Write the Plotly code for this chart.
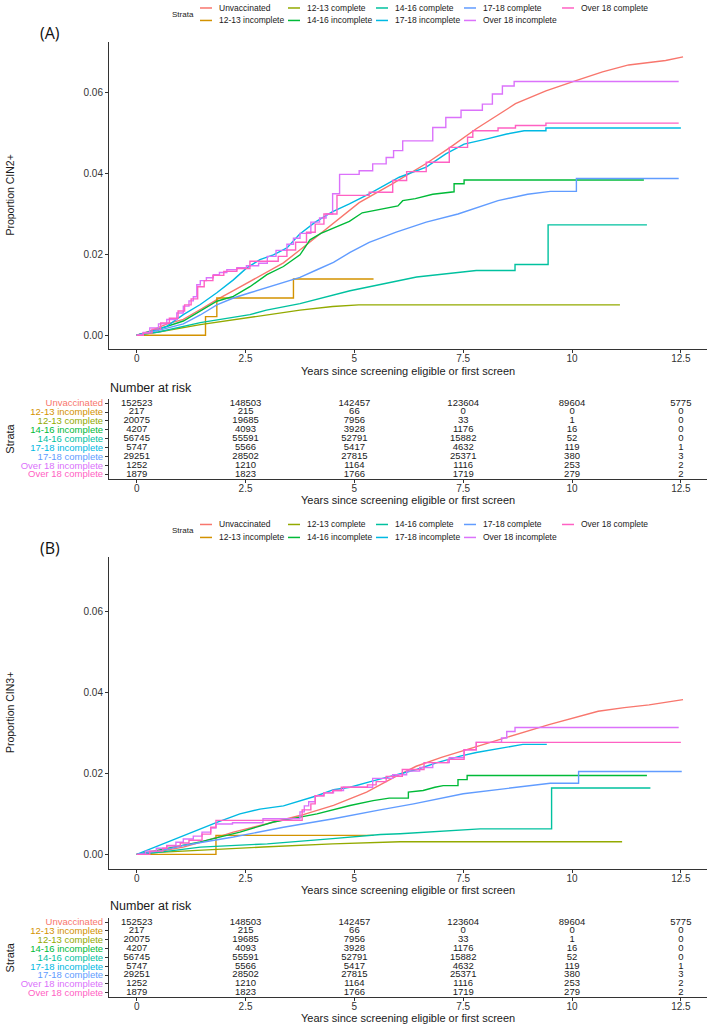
import plotly.graph_objects as go

W, H = 709, 1025

STRATA = ["Unvaccinated", "12-13 incomplete", "12-13 complete", "14-16 incomplete",
          "14-16 complete", "17-18 incomplete", "17-18 complete",
          "Over 18 incomplete", "Over 18 complete"]
COLORS = ["#F8766D", "#D39200", "#93AA00", "#00BA38", "#00C19F",
          "#00B9E3", "#619CFF", "#DB72FB", "#FF61C3"]

# ---------------- Panel A (CIN2+) curves ----------------
A_unvacc_t = [0, 0.3, 0.7, 1.07, 1.5, 1.84, 2.2, 2.6, 3.0, 3.37, 3.9, 4.5, 5.11, 5.88, 6.65, 7.2, 7.8, 8.7, 9.4, 10.09, 10.7, 11.3, 12.15, 12.55]
A_unvacc_v = [0, 0.001, 0.0028, 0.0039, 0.0066, 0.0088, 0.0109, 0.0133, 0.0157, 0.0179, 0.0224, 0.0275, 0.0328, 0.0375, 0.0425, 0.0465, 0.0511, 0.0573, 0.0605, 0.0630, 0.0652, 0.0669, 0.0680, 0.0689]

A_1213inc_t = [0, 1.58, 1.84, 3.6, 5.44]
A_1213inc_v = [0, 0.0046, 0.0092, 0.0139, 0.0139]

A_1213com_t = [0, 0.5, 1.46, 2.6, 3.75, 4.5, 5.1, 11.1]
A_1213com_v = [0, 0.0008, 0.0026, 0.0043, 0.0062, 0.0071, 0.0075, 0.0075]

A_1416inc_t = [0, 0.5, 1.07, 1.46, 1.84, 2.22, 2.6, 2.99, 3.37, 3.75, 3.98, 4.23, 4.6, 4.885, 5.18, 5.56, 6.0, 6.11, 6.4, 6.8, 7.29, 7.29, 7.52, 7.52, 11.65]
A_1416inc_v = [0, 0.0015, 0.0035, 0.0059, 0.0084, 0.0096, 0.012, 0.015, 0.017, 0.0199, 0.0236, 0.0252, 0.0268, 0.0282, 0.0303, 0.0311, 0.032, 0.0333, 0.0338, 0.0349, 0.0355, 0.0375, 0.0375, 0.0384, 0.0384]

A_1416com_t = [0, 0.5, 1.46, 2.2, 2.6, 2.98, 3.75, 4.9, 5.66, 6.05, 6.43, 7.8, 8.69, 8.69, 9.45, 9.45, 11.72]
A_1416com_v = [0, 0.0008, 0.0031, 0.0045, 0.0051, 0.0062, 0.0078, 0.011, 0.0127, 0.0135, 0.0144, 0.016, 0.016, 0.0175, 0.0175, 0.0273, 0.0273]

A_1718inc_t = [0, 0.3, 0.69, 1.07, 1.46, 1.84, 2.22, 2.52, 2.83, 3.14, 3.45, 3.74, 4.1, 4.49, 4.885, 5.34, 6.03, 6.65, 7.1, 7.52, 8.05, 8.5, 8.9, 9.4, 9.4, 12.5]
A_1718inc_v = [0, 0.0008, 0.0022, 0.0051, 0.0076, 0.0105, 0.0137, 0.0166, 0.0187, 0.0199, 0.0216, 0.025, 0.028, 0.0305, 0.0325, 0.035, 0.0391, 0.0416, 0.0449, 0.0473, 0.0486, 0.0498, 0.0506, 0.0506, 0.0513, 0.0513]

A_1718com_t = [0, 0.5, 1.07, 1.46, 1.84, 2.22, 2.6, 2.99, 3.37, 3.75, 4.14, 4.52, 4.9, 5.34, 5.96, 6.65, 7.38, 8.3, 8.98, 9.5, 10.1, 10.1, 12.45]
A_1718com_v = [0, 0.0012, 0.0028, 0.005, 0.0075, 0.0092, 0.0105, 0.0118, 0.013, 0.0143, 0.0162, 0.018, 0.0205, 0.023, 0.0255, 0.028, 0.030, 0.0333, 0.0349, 0.0356, 0.0356, 0.0388, 0.0388]

A_o18inc_t = [0, 0.15, 0.3, 0.5, 0.69, 0.92, 1.07, 1.2, 1.3, 1.38, 1.46, 1.6, 1.76, 1.9, 2.07, 2.3, 2.52, 2.8, 3.0, 3.2, 3.45, 3.6, 3.75, 4.0, 4.2, 4.35, 4.5, 4.66, 5.11, 5.42, 5.73, 5.9, 6.11, 6.8, 7.1, 7.45, 7.94, 8.17, 8.4, 8.67, 12.45]
A_o18inc_v = [0, 0.0007, 0.0018, 0.0028, 0.0039, 0.0055, 0.0072, 0.0085, 0.0095, 0.0125, 0.0135, 0.0142, 0.015, 0.0155, 0.0162, 0.0167, 0.0172, 0.0178, 0.0195, 0.021, 0.0225, 0.024, 0.0252, 0.028, 0.029, 0.030, 0.035, 0.0398, 0.0407, 0.0424, 0.044, 0.0457, 0.0481, 0.0514, 0.0539, 0.0557, 0.0572, 0.0597, 0.0617, 0.0628, 0.0628]

A_o18com_t = [0, 0.15, 0.35, 0.55, 0.75, 0.95, 1.1, 1.25, 1.4, 1.55, 1.75, 2.0, 2.3, 2.6, 3.25, 3.45, 3.65, 3.9, 4.1, 4.3, 4.6, 5.34, 5.88, 6.2, 6.65, 7.18, 7.6, 7.72, 8.3, 8.7, 9.4, 12.45]
A_o18com_v = [0, 0.0005, 0.0015, 0.003, 0.0042, 0.006, 0.0075, 0.009, 0.012, 0.0135, 0.0148, 0.0158, 0.0165, 0.0183, 0.0195, 0.0211, 0.023, 0.0255, 0.0275, 0.030, 0.0346, 0.0354, 0.0383, 0.0405, 0.0428, 0.0465, 0.049, 0.0506, 0.0513, 0.0519, 0.0525, 0.0525]

# ---------------- Panel B (CIN3+) curves ----------------
B_unvacc_t = [0, 0.5, 1.07, 1.5, 2.22, 2.99, 3.75, 4.52, 5.28, 5.9, 6.42, 7.0, 7.56, 8.33, 9.47, 10.6, 11.2, 11.77, 12.55]
B_unvacc_v = [0, 0.0007, 0.0018, 0.0031, 0.0055, 0.0076, 0.0096, 0.0121, 0.0154, 0.019, 0.0218, 0.024, 0.0259, 0.0284, 0.0321, 0.0354, 0.0363, 0.037, 0.0383]

B_1213inc_t = [0, 1.82, 5.44]
B_1213inc_v = [0, 0.0047, 0.0047]

B_1213com_t = [0, 0.5, 2.9, 4.5, 6.05, 11.15]
B_1213com_v = [0, 0.0005, 0.0018, 0.0026, 0.0031, 0.0031]

B_1416inc_t = [0, 0.69, 1.46, 2.37, 3.14, 3.75, 4.14, 4.9, 5.43, 5.8, 6.24, 6.24, 6.58, 6.85, 7.04, 7.38, 7.38, 7.59, 7.59, 11.72]
B_1416inc_v = [0, 0.0014, 0.0031, 0.0055, 0.008, 0.0092, 0.01, 0.0121, 0.0133, 0.0139, 0.0139, 0.0154, 0.0158, 0.0166, 0.017, 0.017, 0.0185, 0.0185, 0.0195, 0.0195]

B_1416com_t = [0, 0.5, 1.46, 3.0, 4.5, 5.6, 6.05, 7.13, 7.89, 9.53, 9.53, 11.8]
B_1416com_v = [0, 0.0005, 0.0018, 0.0026, 0.0039, 0.0049, 0.0051, 0.0059, 0.0063, 0.0063, 0.0164, 0.0164]

B_1718inc_t = [0, 0.23, 0.69, 1.07, 1.46, 1.84, 2.37, 2.83, 3.37, 3.75, 4.14, 4.52, 4.9, 5.43, 5.9, 6.43, 6.9, 7.43, 7.8, 8.3, 8.87, 9.42]
B_1718inc_v = [0, 0.001, 0.003, 0.0047, 0.0063, 0.0079, 0.010, 0.0112, 0.012, 0.0133, 0.0145, 0.016, 0.0166, 0.0182, 0.0195, 0.021, 0.0227, 0.0243, 0.0252, 0.0262, 0.0272, 0.0272]

B_1718com_t = [0, 0.5, 1.07, 2.22, 3.37, 4.52, 5.59, 6.36, 7.5, 8.66, 9.5, 10.15, 10.15, 12.52]
B_1718com_v = [0, 0.0008, 0.0022, 0.0043, 0.0067, 0.0088, 0.011, 0.0125, 0.015, 0.0166, 0.0176, 0.0176, 0.0205, 0.0205]

B_o18inc_t = [0, 0.2, 0.45, 0.69, 0.9, 1.07, 1.3, 1.5, 1.7, 1.82, 2.2, 2.9, 3.75, 3.85, 3.95, 4.1, 4.3, 4.52, 4.75, 5.42, 5.88, 6.2, 6.5, 6.8, 7.18, 7.52, 7.8, 8.38, 8.5, 8.69, 12.45]
B_o18inc_v = [0, 0.0008, 0.0015, 0.0022, 0.003, 0.0038, 0.0045, 0.0055, 0.0065, 0.0075, 0.0078, 0.0088, 0.0105, 0.012, 0.013, 0.0145, 0.0152, 0.0158, 0.0166, 0.0188, 0.0197, 0.0206, 0.0215, 0.0227, 0.0239, 0.0259, 0.0277, 0.0288, 0.0304, 0.0314, 0.0314]

B_o18com_t = [0, 0.3, 0.6, 0.69, 1.0, 1.2, 1.5, 1.7, 1.82, 3.6, 3.8, 4.0, 4.1, 4.3, 4.5, 4.7, 5.3, 5.5, 5.73, 6.1, 6.6, 7.15, 7.52, 7.8, 12.5]
B_o18com_v = [0, 0.0008, 0.0015, 0.0021, 0.0028, 0.0035, 0.005, 0.0067, 0.0084, 0.0084, 0.011, 0.0125, 0.0145, 0.0152, 0.0158, 0.0166, 0.0172, 0.018, 0.0193, 0.021, 0.0227, 0.0235, 0.0259, 0.0277, 0.0277]

A_T = [A_unvacc_t, A_1213inc_t, A_1213com_t, A_1416inc_t, A_1416com_t, A_1718inc_t, A_1718com_t, A_o18inc_t, A_o18com_t]
A_V = [A_unvacc_v, A_1213inc_v, A_1213com_v, A_1416inc_v, A_1416com_v, A_1718inc_v, A_1718com_v, A_o18inc_v, A_o18com_v]
B_T = [B_unvacc_t, B_1213inc_t, B_1213com_t, B_1416inc_t, B_1416com_t, B_1718inc_t, B_1718com_t, B_o18inc_t, B_o18com_t]
B_V = [B_unvacc_v, B_1213inc_v, B_1213com_v, B_1416inc_v, B_1416com_v, B_1718inc_v, B_1718com_v, B_o18inc_v, B_o18com_v]
LINE_SHAPES = ["linear", "hv", "linear", "linear", "linear", "linear", "linear", "hv", "hv"]

# ---------------- Number at risk ----------------
RISK_TIMES = [0, 2.5, 5, 7.5, 10, 12.5]
RISK = [
    [152523, 148503, 142457, 123604, 89604, 5775],
    [217, 215, 66, 0, 0, 0],
    [20075, 19685, 7956, 33, 1, 0],
    [4207, 4093, 3928, 1176, 16, 0],
    [56745, 55591, 52791, 15882, 52, 0],
    [5747, 5566, 5417, 4632, 119, 1],
    [29251, 28502, 27815, 25371, 380, 3],
    [1252, 1210, 1164, 1116, 253, 2],
    [1879, 1823, 1766, 1719, 279, 2],
]

X_TICKS = [0, 2.5, 5, 7.5, 10, 12.5]
X_TICKTEXT = ["0", "2.5", "5", "7.5", "10", "12.5"]
Y_TICKS = [0, 0.02, 0.04, 0.06]
Y_TICKTEXT = ["0.00", "0.02", "0.04", "0.06"]

FONT = "Liberation Sans, Arial, sans-serif"
AXC = "#333333"
TXT = "#1a1a1a"


def px(x):
    return x / W


def py(y):
    return 1 - y / H


fig = go.Figure()

X_DOM = [px(109), px(707)]
X_RANGE = [-0.637, 13.1]

panels = [
    dict(T=A_T, V=A_V, xa="x", ya="y", xt="x2", yt="y2",
         plot_dom=[py(349), py(41)], tab_dom=[py(478.5), py(398.5)],
         yrange=[-0.0035, 0.0726], ylabel="Proportion CIN2+", tag="(A)",
         tag_y=32, leg_y=(7, 19.5), xtitle_y=371, nar_y=388, ttitle_y=500),
    dict(T=B_T, V=B_V, xa="x3", ya="y3", xt="x4", yt="y4",
         plot_dom=[py(870), py(557)], tab_dom=[py(998), py(918.5)],
         yrange=[-0.0037, 0.0736], ylabel="Proportion CIN3+", tag="(B)",
         tag_y=548, leg_y=(524.5, 537.5), xtitle_y=891, nar_y=907, ttitle_y=1019),
]

annotations = []
shapes = []

for p_i, P in enumerate(panels):
    for i, name in enumerate(STRATA):
        fig.add_trace(go.Scatter(
            x=P["T"][i], y=P["V"][i], mode="lines", name=name,
            line=dict(color=COLORS[i], width=1.4, shape=LINE_SHAPES[i]),
            xaxis=P["xa"], yaxis=P["ya"], showlegend=False, hoverinfo="skip"))
    # risk table text
    tx, ty, tt = [], [], []
    for r, row in enumerate(RISK):
        for c, val in enumerate(row):
            tx.append(RISK_TIMES[c])
            ty.append(r + 1)
            tt.append(str(val))
    fig.add_trace(go.Scatter(
        x=tx, y=ty, text=tt, mode="text", textposition="middle center",
        textfont=dict(size=9.5, color=TXT, family=FONT),
        xaxis=P["xt"], yaxis=P["yt"], showlegend=False, hoverinfo="skip"))

    # legend (ggplot style: column-major, 2 rows)
    key_x = [200, 288, 376, 464, 562]
    for i, name in enumerate(STRATA):
        col, row = divmod(i, 2)
        yy = P["leg_y"][row]
        x0 = key_x[col]
        shapes.append(dict(type="line", xref="paper", yref="paper",
                           x0=px(x0), x1=px(x0 + 12), y0=py(yy), y1=py(yy),
                           line=dict(color=COLORS[i], width=1.5)))
        annotations.append(dict(x=px(x0 + 17), y=py(yy), xref="paper", yref="paper",
                                text=name, showarrow=False, xanchor="left", yanchor="middle",
                                font=dict(size=8.5, color=TXT, family=FONT)))
    annotations.append(dict(x=px(183), y=py((P["leg_y"][0] + P["leg_y"][1]) / 2),
                            xref="paper", yref="paper", text="Strata", showarrow=False,
                            xanchor="center", yanchor="middle",
                            font=dict(size=8, color=TXT, family=FONT)))
    annotations.append(dict(x=px(50), y=py(P["tag_y"]), xref="paper", yref="paper",
                            text=P["tag"], showarrow=False, xanchor="center", yanchor="middle",
                            font=dict(size=16, color="#111111", family="Open Sans, sans-serif")))
    # axis titles
    annotations.append(dict(x=px(10), y=(P["plot_dom"][0] + P["plot_dom"][1]) / 2,
                            xref="paper", yref="paper", text=P["ylabel"], textangle=-90,
                            showarrow=False, xanchor="center", yanchor="middle",
                            font=dict(size=10.5, color=TXT, family=FONT)))
    annotations.append(dict(x=px(408), y=py(P["xtitle_y"]), xref="paper", yref="paper",
                            text="Years since screening eligible or first screen",
                            showarrow=False, xanchor="center", yanchor="middle",
                            font=dict(size=11, color=TXT, family=FONT)))
    annotations.append(dict(x=px(108), y=py(P["nar_y"]), xref="paper", yref="paper",
                            text="Number at risk", showarrow=False, xanchor="left",
                            yanchor="middle", font=dict(size=12.5, color=TXT, family=FONT)))
    annotations.append(dict(x=px(10), y=(P["tab_dom"][0] + P["tab_dom"][1]) / 2,
                            xref="paper", yref="paper", text="Strata", textangle=-90,
                            showarrow=False, xanchor="center", yanchor="middle",
                            font=dict(size=11, color=TXT, family=FONT)))
    annotations.append(dict(x=px(408), y=py(P["ttitle_y"]), xref="paper", yref="paper",
                            text="Years since screening eligible or first screen",
                            showarrow=False, xanchor="center", yanchor="middle",
                            font=dict(size=11, color=TXT, family=FONT)))

axis_common = dict(showline=True, linecolor=AXC, linewidth=1, ticks="outside",
                   ticklen=3, tickcolor=AXC, showgrid=False, zeroline=False,
                   tickfont=dict(size=10, color="#333333", family=FONT), fixedrange=True)

colored_labels = [f'<span style="color:{c}">{s}</span>' for s, c in zip(STRATA, COLORS)]

layout_axes = {}
for k, P in enumerate(panels):
    n = 2 * k
    xa_name = "xaxis" if n == 0 else f"xaxis{n + 1}"
    ya_name = "yaxis" if n == 0 else f"yaxis{n + 1}"
    xt_name = f"xaxis{n + 2}"
    yt_name = f"yaxis{n + 2}"
    layout_axes[xa_name] = dict(axis_common, domain=X_DOM, range=X_RANGE,
                                tickvals=X_TICKS, ticktext=X_TICKTEXT,
                                ticklabelstandoff=-3, anchor=P["ya"])
    layout_axes[ya_name] = dict(axis_common, domain=P["plot_dom"], range=P["yrange"],
                                tickvals=Y_TICKS, ticktext=Y_TICKTEXT,
                                anchor=P["xa"])
    layout_axes[xt_name] = dict(axis_common, domain=X_DOM, range=X_RANGE,
                                tickvals=X_TICKS, ticktext=X_TICKTEXT,
                                ticklabelstandoff=-3, anchor=P["yt"])
    layout_axes[yt_name] = dict(axis_common, domain=P["tab_dom"], range=[9.5, 0.5],
                                tickvals=list(range(1, 10)), ticktext=colored_labels,
                                anchor=P["xt"])
    layout_axes[yt_name]["tickfont"] = dict(size=9.5, family=FONT)

fig.update_layout(
    width=W, height=H, margin=dict(l=0, r=0, t=0, b=0),
    paper_bgcolor="white", plot_bgcolor="white",
    showlegend=False, annotations=annotations, shapes=shapes,
    font=dict(family=FONT), **layout_axes)

fig.write_html("out.html")
